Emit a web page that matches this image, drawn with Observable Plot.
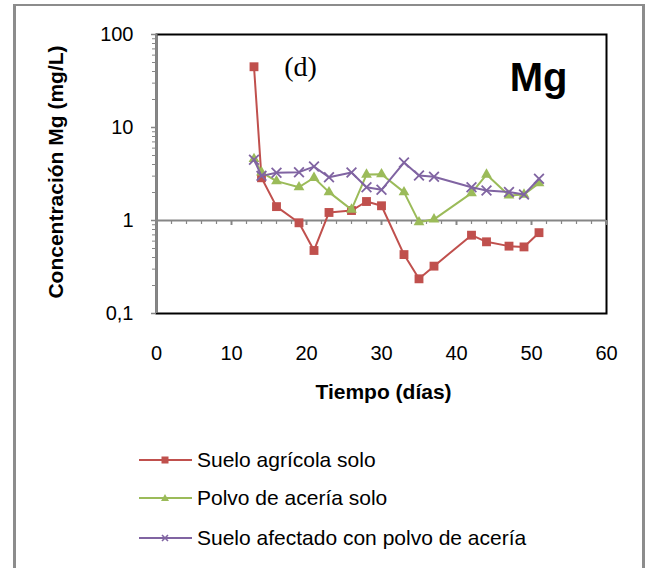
<!DOCTYPE html>
<html>
<head>
<meta charset="utf-8">
<script src="https://cdn.jsdelivr.net/npm/d3@7"></script>
<script src="https://cdn.jsdelivr.net/npm/@observablehq/plot@0.6"></script>
<style>
  html, body { margin: 0; padding: 0; background: #fff; overflow: hidden; }
  #wrap { position: relative; width: 654px; height: 568px; font-family: "Liberation Sans", Arial, sans-serif; }
  #border { position: absolute; left: 13px; top: 4px; width: 626px; height: 640px; border: 3px solid #8c8c8c; border-top-width: 2px; }
  #chart { position: absolute; left: 0; top: 0; }
  .leg { position: absolute; left: 139px; height: 26px; display: flex; align-items: center; font-size: 21px; color: #000; white-space: nowrap; }
  .leg svg { margin-right: 5px; }
</style>
</head>
<body>
<div id="wrap">
  <div id="border"></div>
  <div id="chart"></div>
  <div id="legend"></div>
</div>
<script>
// ---- data ----
const days = [13, 14, 16, 19, 21, 23, 26, 28, 30, 33, 35, 37, 42, 44, 47, 49, 51];
const sueloAgricola = [45, 2.88, 1.41, 0.945, 0.476, 1.22, 1.28, 1.6, 1.44, 0.43, 0.236, 0.323, 0.695, 0.59, 0.53, 0.52, 0.74];
const polvoAceria = [4.6, 3.3, 2.65, 2.28, 2.88, 2.02, 1.31, 3.12, 3.15, 2.02, 0.96, 1.03, 1.97, 3.12, 1.86, 1.9, 2.52];
const sueloAfectado = [4.5, 3.02, 3.26, 3.31, 3.8, 2.92, 3.28, 2.28, 2.14, 4.2, 3.05, 2.95, 2.28, 2.1, 2.02, 1.9, 2.81];
const seriesNames = ["Suelo agrícola solo", "Polvo de acería solo", "Suelo afectado con polvo de acería"];
const seriesColors = ["#C0504D", "#9BBB59", "#8064A2"];
const seriesSymbols = ["square", "triangle", "times"];
const yTickValues = [0.1, 1, 10, 100];
const yTickLabels = ["0,1", "1", "10", "100"];
const xTickValues = [0, 10, 20, 30, 40, 50, 60];
const yTitle = "Concentración Mg (mg/L)";
const xTitle = "Tiempo (días)";
const panelLabel = "(d)";
const elementLabel = "Mg";

// ---- build ----
const seriesValues = [sueloAgricola, polvoAceria, sueloAfectado];
const rows = seriesValues.map((vals, s) => days.map((d, i) => ({day: d, value: vals[i], serie: s})));
const yMinor = [];
for (const base of [0.1, 1, 10]) for (let k = 2; k <= 9; k++) yMinor.push(+(base * k).toPrecision(3));
const xMinor = d3.range(0, 61, 2).filter(d => d % 10 !== 0);
const axisGray = "#868686";
const sans = '"Liberation Sans", Arial, sans-serif';

const seriesMarks = rows.flatMap((data, s) => {
  const sym = seriesSymbols[s];
  const stroked = sym === "times";
  return [
    Plot.line(data, {x: "day", y: "value", stroke: seriesColors[s], strokeWidth: 2}),
    Plot.dot(data, {
      x: "day", y: "value", symbol: sym,
      r: sym === "square" ? 5 : sym === "triangle" ? 4 : 4.5,
      fill: stroked ? "none" : seriesColors[s],
      stroke: stroked ? seriesColors[s] : "none",
      strokeWidth: stroked ? 1.8 : 0
    })
  ];
});

const chart = Plot.plot({
  width: 654, height: 420,
  marginTop: 34, marginLeft: 156, marginRight: 48, marginBottom: 107,
  style: {fontFamily: sans, background: "transparent", overflow: "visible", color: "#000"},
  x: {domain: [0, 60]},
  y: {type: "log", domain: [0.1, 100]},
  marks: [
    Plot.frame({stroke: "#000", strokeWidth: 2}),
    Plot.ruleX([0], {stroke: axisGray, strokeWidth: 2}),
    Plot.axisY({ticks: yMinor, tickSize: 4, tickFormat: () => "", stroke: axisGray, strokeWidth: 1, label: null}),
    Plot.axisY({ticks: yTickValues, tickSize: 5, tickFormat: () => "", stroke: axisGray, strokeWidth: 1.5, label: null}),
    Plot.axisY({ticks: yTickValues, tickSize: 0, tickPadding: 23, fontSize: 20,
      tickFormat: d => yTickLabels[yTickValues.indexOf(d)], label: null}),
    Plot.ruleY([1], {stroke: axisGray, strokeWidth: 2}),
    Plot.ruleX(xMinor, {x: d => d, y1: 1, y2: 1, insetBottom: -4, stroke: axisGray, strokeWidth: 1.2}),
    Plot.ruleX(xTickValues, {x: d => d, y1: 1, y2: 1, insetBottom: -5, stroke: axisGray, strokeWidth: 2}),
    Plot.axisX({ticks: xTickValues, tickSize: 0, tickPadding: 32, fontSize: 20, label: null}),
    ...seriesMarks,
    Plot.text([panelLabel], {frameAnchor: "top-left", dx: 144, dy: 22, fontFamily: '"Liberation Serif", "Times New Roman", serif', fontSize: 28, textAnchor: "middle"}),
    Plot.text([elementLabel], {frameAnchor: "top-left", dx: 382, dy: 28, fontFamily: sans, fontWeight: "bold", fontSize: 40, textAnchor: "middle"}),
    Plot.text([yTitle], {frameAnchor: "left", dx: -100, dy: -2, rotate: -90, fontWeight: "bold", fontSize: 21, textAnchor: "middle"}),
    Plot.text([xTitle], {frameAnchor: "bottom", dx: 2, dy: 85, fontWeight: "bold", fontSize: 21, textAnchor: "middle"})
  ]
});
document.getElementById("chart").appendChild(chart);

// ---- legend ----
const legendCenters = [460, 498, 538];
function swatch(s) {
  const c = seriesColors[s];
  let m;
  if (seriesSymbols[s] === "square") m = `<rect x="22.5" y="9.5" width="7" height="7" fill="${c}"/>`;
  else if (seriesSymbols[s] === "triangle") m = `<path d="M26,9 L30,16 L22,16 Z" fill="${c}"/>`;
  else m = `<path d="M23,10 L29,16 M29,10 L23,16" stroke="${c}" stroke-width="1.6"/>`;
  return `<svg width="53" height="26" viewBox="0 0 53 26"><line x1="0" y1="13" x2="53" y2="13" stroke="${c}" stroke-width="2"/>${m}</svg>`;
}
const legend = document.getElementById("legend");
seriesNames.forEach((name, s) => {
  const row = document.createElement("div");
  row.className = "leg";
  row.style.top = (legendCenters[s] - 13) + "px";
  row.innerHTML = swatch(s) + `<span>${name}</span>`;
  legend.appendChild(row);
});
</script>
</body>
</html>
